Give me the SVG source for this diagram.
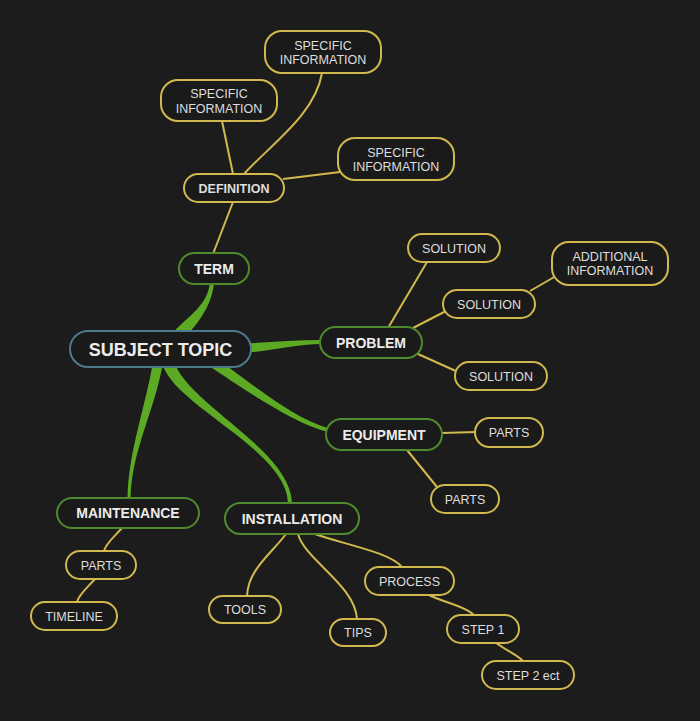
<svg xmlns="http://www.w3.org/2000/svg" width="700" height="721" viewBox="0 0 700 721">
<style>
.bg{fill:#1c1c1c}
.n rect{fill:#1a1a1a;stroke-width:2}
.main rect{stroke:#4f8a2c}
.leaf rect{stroke:#d2b94e}
.root rect{stroke:#4c7b8d}
text{font-family:"Liberation Sans",Arial,sans-serif;text-anchor:middle}
.main text{font-size:14px;font-weight:bold;fill:#ececec}
.leaf text{font-size:12.5px;fill:#dedede}
.root text{font-size:18px;font-weight:bold;fill:#ececec}
.leaf text.b{font-weight:bold}
.g{fill:#5ca924}
.y{fill:none;stroke:#d2b94e;stroke-width:2}
</style>
<rect class="bg" x="0" y="0" width="700" height="721"/>
<g id="connectors">
<path class="g" d="M182.4,340.1 C199.4,322.1 212,305.2 214,282.2 L210,281.8 C208,304.8 190.6,313.9 173.6,331.9 Z"/>
<path class="g" d="M245,352.5 C270,351.5 295,344 322,344 L322,340 C295,340 270,342.5 245,343.5 Z"/>
<path class="g" d="M209.3,366.2 C237.3,384.2 289.5,421.9 327.5,431.9 L328.5,428.1 C290.5,418.1 242.7,375.8 214.7,357.8 Z"/>
<path class="g" d="M162.2,363.6 C174.2,406.6 288,450 288,504 L292,504 C292,450 185.8,403.4 173.8,360.4 Z"/>
<path class="g" d="M162.9,362.8 C154.9,410.8 131.5,450 130.5,499 L127.5,499 C128.5,450 145.1,409.2 153.1,361.2 Z"/>
<path class="y" d="M213,254 L233,202"/>
<path class="y" d="M222,121 L233,174"/>
<path class="y" d="M244,174 C270,145 315,115 322,73"/>
<path class="y" d="M283,179 L340,172"/>
<path class="y" d="M388,328 L427,262"/>
<path class="y" d="M413,328 L446,311"/>
<path class="y" d="M418,354 L458,372"/>
<path class="y" d="M530,291 L556,276"/>
<path class="y" d="M442,433 L476,432"/>
<path class="y" d="M407,450 L437,487"/>
<path class="y" d="M122,528 C115,536 106,543 104,551"/>
<path class="y" d="M95,579 C88,587 79,594 77,602"/>
<path class="y" d="M286,534 C270,555 248,570 247,596"/>
<path class="y" d="M298,534 C305,560 355,585 357,619"/>
<path class="y" d="M312,533 C345,545 390,552 402,567"/>
<path class="y" d="M429,595 C445,603 465,606 474,615"/>
<path class="y" d="M495,642 C505,650 518,655 524,662"/>
</g>
<g id="subject" class="n root"><rect x="70" y="331" width="181" height="36" rx="18"/><text x="160.5" y="355.5">SUBJECT TOPIC</text></g>
<g id="term" class="n main"><rect x="179" y="253" width="70" height="31" rx="15.5"/><text x="214" y="273.5">TERM</text></g>
<g id="definition" class="n leaf"><rect x="184" y="174" width="100" height="28" rx="14"/><text class="b" x="234" y="192.5">DEFINITION</text></g>
<g id="spec1" class="n leaf"><rect x="265" y="31" width="116" height="42" rx="17"/><text x="323" y="49.5">SPECIFIC</text><text x="323" y="64">INFORMATION</text></g>
<g id="spec2" class="n leaf"><rect x="161" y="80" width="116" height="41" rx="17"/><text x="219" y="98">SPECIFIC</text><text x="219" y="112.5">INFORMATION</text></g>
<g id="spec3" class="n leaf"><rect x="338" y="138" width="116" height="42" rx="17"/><text x="396" y="156.5">SPECIFIC</text><text x="396" y="171">INFORMATION</text></g>
<g id="problem" class="n main"><rect x="320" y="327" width="102" height="31" rx="15.5"/><text x="371" y="347.5">PROBLEM</text></g>
<g id="sol1" class="n leaf"><rect x="408" y="234" width="92" height="28" rx="14"/><text x="454" y="252.5">SOLUTION</text></g>
<g id="sol2" class="n leaf"><rect x="443" y="290" width="92" height="28" rx="14"/><text x="489" y="308.5">SOLUTION</text></g>
<g id="sol3" class="n leaf"><rect x="455" y="362" width="92" height="28" rx="14"/><text x="501" y="380.5">SOLUTION</text></g>
<g id="addinfo" class="n leaf"><rect x="552" y="242" width="116" height="43" rx="17"/><text x="610" y="260.5">ADDITIONAL</text><text x="610" y="275">INFORMATION</text></g>
<g id="equipment" class="n main"><rect x="326" y="419" width="116" height="31" rx="15.5"/><text x="384" y="439.5">EQUIPMENT</text></g>
<g id="parts1" class="n leaf"><rect x="475" y="418" width="68" height="29" rx="14.5"/><text x="509" y="437">PARTS</text></g>
<g id="parts2" class="n leaf"><rect x="431" y="485" width="68" height="28" rx="14"/><text x="465" y="503.5">PARTS</text></g>
<g id="maintenance" class="n main"><rect x="57" y="498" width="142" height="30" rx="15"/><text x="128" y="518">MAINTENANCE</text></g>
<g id="parts3" class="n leaf"><rect x="66" y="551" width="70" height="28" rx="14"/><text x="101" y="569.5">PARTS</text></g>
<g id="timeline" class="n leaf"><rect x="31" y="602" width="86" height="28" rx="14"/><text x="74" y="620.5">TIMELINE</text></g>
<g id="installation" class="n main"><rect x="225" y="503" width="134" height="31" rx="15.5"/><text x="292" y="523.5">INSTALLATION</text></g>
<g id="tools" class="n leaf"><rect x="209" y="596" width="72" height="27" rx="13.5"/><text x="245" y="614">TOOLS</text></g>
<g id="tips" class="n leaf"><rect x="330" y="619" width="56" height="27" rx="13.5"/><text x="358" y="637">TIPS</text></g>
<g id="process" class="n leaf"><rect x="365" y="567" width="89" height="28" rx="14"/><text x="409.5" y="585.5">PROCESS</text></g>
<g id="step1" class="n leaf"><rect x="447" y="615" width="72" height="28" rx="14"/><text x="483" y="633.5">STEP 1</text></g>
<g id="step2" class="n leaf"><rect x="482" y="661" width="92" height="28" rx="14"/><text x="528" y="679.5">STEP 2 ect</text></g>
</svg>
